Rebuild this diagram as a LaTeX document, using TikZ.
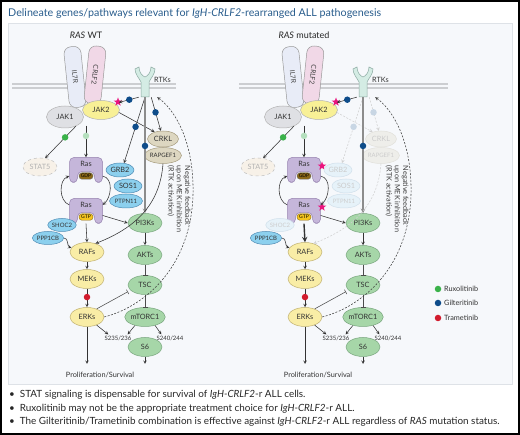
\documentclass[tikz,border=0pt]{standalone}
\usepackage{fontspec}
\setmainfont{Lato}
\usepackage{tikz}
\usetikzlibrary{shapes,arrows,arrows.meta,positioning,calc}

\definecolor{titleblue}{RGB}{40,92,140}
\definecolor{panelbg}{RGB}{246,248,251}
\definecolor{panelline}{RGB}{222,226,231}
\definecolor{membraneline}{RGB}{204,206,209}
\definecolor{ilcolor}{RGB}{232,236,247}
\definecolor{crlfcolor}{RGB}{241,216,231}
\definecolor{rtkteal}{RGB}{212,236,228}
\definecolor{rtkline}{RGB}{140,170,162}
\definecolor{jakonecolor}{RGB}{223,224,228}
\definecolor{jaktwocolor}{RGB}{248,240,150}
\definecolor{greennode}{RGB}{166,214,168}
\definecolor{greenline}{RGB}{120,165,125}
\definecolor{yellownode}{RGB}{249,237,166}
\definecolor{yellowline}{RGB}{190,175,110}
\definecolor{bluenode}{RGB}{140,208,238}
\definecolor{blueline}{RGB}{80,140,180}
\definecolor{tannode}{RGB}{221,215,193}
\definecolor{tanline}{RGB}{165,155,125}
\definecolor{statfill}{RGB}{247,241,232}
\definecolor{raspurple}{RGB}{197,182,218}
\definecolor{rasline}{RGB}{150,130,175}
\definecolor{gdpbrown}{RGB}{138,104,24}
\definecolor{gtpyellow}{RGB}{244,196,30}
\definecolor{starpink}{RGB}{234,20,126}
\definecolor{ruxgreen}{RGB}{58,178,74}
\definecolor{giltblue}{RGB}{14,76,138}
\definecolor{trared}{RGB}{210,28,46}

\tikzset{
    rtkshape/.pic={
        \draw[draw=rtkline, fill=rtkteal, line width=0.5pt]
            (-4,15) -- (-4,0) .. controls (-6,-4) and (-10,-8) .. (-10,-13)
            -- (-6,-15) .. controls (-6,-10) and (-3,-6) .. (0,-5)
            .. controls (3,-6) and (6,-10) .. (6,-15)
            -- (10,-13) .. controls (10,-8) and (6,-4) .. (4,0) -- (4,15) -- cycle;
    },
    rasblob/.pic={
        \draw[draw=rasline, fill=raspurple, line width=0.5pt, rounded corners=4.5]
            (-8.5,12.5) -- (-16.5,12.5) -- (-16.5,-12.5) -- (16.5,-12.5)
            -- (16.5,12.5) -- (8.5,12.5) -- (8.5,1.5) -- (-8.5,1.5) -- cycle;
    }
}

\begin{document}
\begin{tikzpicture}[
    x=1pt, y=-1pt,
    heading/.style={font=\fontsize{9}{10}\selectfont, text=black!85},
    lbl/.style={font=\fontsize{7.3}{8.3}\selectfont, text=black!80, inner sep=1pt},
    small/.style={font=\fontsize{6}{7}\selectfont},
    cell/.style={ellipse, line width=0.5pt, inner sep=0, minimum width=34, minimum height=19,
                 font=\fontsize{7.3}{8.3}\selectfont, text=black!80},
    pathnode/.style={cell, fill=greennode, draw=greenline},
    mapknode/.style={cell, fill=yellownode, draw=yellowline},
    adaptor/.style={cell, fill=bluenode, draw=blueline, minimum width=28, minimum height=14},
    adaptorfade/.style={adaptor, fill=bluenode!15!panelbg, draw=blueline!22!panelbg, text=black!20},
    crknode/.style={cell, fill=tannode, draw=tanline, minimum width=31, minimum height=16},
    crkfade/.style={crknode, fill=tannode!30!panelbg, draw=tanline!25!panelbg, text=black!20},
    statnode/.style={cell, fill=statfill, draw=black!25, dashed, text=black!30, minimum height=18},
    receptor/.style={rectangle, rounded corners=7, draw=black!40, line width=0.5pt, inner sep=0,
                     minimum width=61, minimum height=17, font=\fontsize{6.8}{7.5}\selectfont, text=black!75},
    ras/.style={rectangle, inner sep=0, minimum width=33, minimum height=25},
    pill/.style={rectangle, rounded corners=3, line width=0.4pt, minimum width=14, minimum height=6.5,
                 inner sep=0.5pt, font=\fontsize{5}{5.5}\selectfont},
    dot/.style={circle, inner sep=0, minimum size=6.5},
    mutstar/.style={star, star points=5, star point ratio=2.4, fill=starpink, inner sep=0, minimum size=9},
    arrow/.style={->, >=stealth, line width=0.55pt, draw=black!80},
    inhibit/.style={-{Bar[width=5pt]}, line width=0.55pt, draw=black!70},
    fadearrow/.style={arrow, dash pattern=on 2pt off 1.5pt, draw=black!18},
    feedback/.style={arrow, dash pattern=on 2pt off 1.5pt, draw=black!75},
    membrane/.style={draw=membraneline, line width=1.2pt},
    bullet/.style={font=\fontsize{9.9}{11}\selectfont, text=black!85, inner sep=0}
]
    \useasboundingbox (0,0) rectangle (520,435);
    % frame, title and panel
    \draw[line width=2pt] (1,1) rectangle (519,434);
    \node[anchor=west, font=\fontsize{10.7}{12}\selectfont, text=titleblue, inner sep=0] (title) at (8,13.5)
        {Delineate genes/pathways relevant for \textit{IgH-CRLF2}-rearranged ALL pathogenesis};
    \draw[fill=panelbg, draw=panelline, line width=0.8pt] (8,23) rectangle (512,384);

    % ================= RAS WT =================
    \node[heading] (headw) at (86,35) {\textit{RAS} WT};
    \draw[membrane] (12,84) -- (176,84) (12,88) -- (176,88);

    % receptors
    \node[receptor, fill=ilcolor, rotate=-84] (il7rw) at (75,77) {IL7R};
    \node[receptor, fill=crlfcolor, rotate=-96, minimum width=58] (crlf2w) at (95,75) {CRLF2};
    \pic at (145,82) {rtkshape};
    \node[minimum width=12, minimum height=30, inner sep=0] (rtkw) at (145,82) {};
    \node[lbl, anchor=west] (rtklblw) at (153,80) {RTKs};

    % kinases and adaptors
    \node[cell, fill=jakonecolor, draw=black!30, minimum width=37, minimum height=22] (jak1w) at (65,117) {JAK1};
    \node[cell, fill=jaktwocolor, draw=black!30, minimum width=37] (jak2w) at (101,110) {JAK2};
    \node[mutstar] (starjw) at (118,102) {};
    \node[statnode] (stat5w) at (40,167) {STAT5};
    \node[crknode] (crklw) at (163,139) {CRKL};
    \node[crknode, small, minimum width=33] (rapgef1w) at (163,155.5) {RAPGEF1};

    % Ras cycle
    \pic at (86,170) {rasblob};
    \node[ras] (rasgdpw) at (86,170) {};
    \node[lbl] (rasgdptw) at (86,164) {Ras};
    \node[pill, fill=gdpbrown, draw=black!55] (gdpw) at (86,176) {GDP};
    \pic at (86,211) {rasblob};
    \node[ras] (rasgtpw) at (86,211) {};
    \node[lbl] (rasgtptw) at (86,205) {Ras};
    \node[pill, fill=gtpyellow, draw=gdpbrown] (gtpw) at (86,217) {GTP};
    \node[adaptor] (grb2w) at (120,170) {GRB2};
    \node[adaptor] (sos1w) at (128,186) {SOS1};
    \node[adaptor, small, minimum width=33] (ptpn11w) at (126,201) {PTPN11};
    \node[adaptor, small, minimum width=27, minimum height=13] (shoc2w) at (62,225) {SHOC2};
    \node[adaptor, small, minimum width=28, minimum height=13] (ppp1cbw) at (48,238) {PPP1CB};

    % MAPK and PI3K branches
    \node[pathnode] (pi3kw) at (145,223) {PI3Ks};
    \node[pathnode] (aktw) at (145,255) {AKTs};
    \node[pathnode] (tscw) at (145,285) {TSC};
    \node[pathnode, minimum width=37] (mtorw) at (145,317) {mTORC1};
    \node[pathnode] (s6w) at (145,347) {S6};
    \node[mapknode] (rafw) at (87,252) {RAFs};
    \node[mapknode] (mekw) at (87,279) {MEKs};
    \node[mapknode] (erkw) at (87,317) {ERKs};
    \node[lbl, small] (s235w) at (118,338) {S235/236};
    \node[lbl, small] (s240w) at (170,338) {S240/244};
    \coordinate (outerkw) at (87,364);
    \coordinate (outs6w) at (145,364);
    \node[lbl] (prolifw) at (100,375) {Proliferation/Survival};
    \node[lbl, rotate=-90, align=left, text=black!75] (feedw) at (179,199)
        {Negative feedback\\upon MEK inhibition\\(RTK activation)};

    % connectors
    \draw[arrow, shorten >=4pt] (rtkw.south west) -- node[dot, fill=giltblue, pos=0.4] (d1w) {} (jak2w.25);
    \draw[arrow] (jak2w.-8) -- (crklw.140);
    \draw[arrow] (rtkw.south east) -- node[dot, fill=giltblue, pos=0.45] (d2w) {} (crklw.105);
    \draw[arrow] (rtkw.south) -- node[dot, fill=giltblue, pos=0.45] (d3w) {} (grb2w.60);
    \draw[arrow, line width=1.1pt, draw=black!45] (rtkw.south) -- node[dot, fill=giltblue, pos=0.42] (d4w) {} (pi3kw.north);
    \draw[arrow] (jak1w.-40) -- node[dot, fill=ruxgreen, pos=0.35] (d5w) {} (stat5w.60);
    \draw[arrow, shorten <=6pt] (jak2w.south -| rasgdpw.north) -- node[dot, fill=ruxgreen!35!panelbg, pos=0.43] (d6w) {} (rasgdpw.north);
    \draw[arrow] (rasgtpw.160) to[out=160, in=-160] (rasgdpw.200);
    \draw[arrow] (rasgdpw.-20) to[out=-10, in=40] (rasgtpw.20);
    \draw[arrow] (rasgtpw.south) -- (rafw.north);
    \draw[arrow] (rasgtpw.-15) -- (pi3kw.west);
    \draw[arrow] (ppp1cbw.east) to[out=0, in=160] (rafw.165);
    \draw[arrow] (rapgef1w.south) .. controls (160,205) and (135,228) .. (rafw.45);
    \draw[arrow] (rafw.south) -- (mekw.north);
    \draw[arrow] (mekw.south) -- node[dot, fill=trared, pos=0.45] (d7w) {} (erkw.north);
    \draw[arrow] (pi3kw.south) -- (aktw.north);
    \draw[inhibit] (aktw.south) -- (tscw.north);
    \draw[inhibit] (tscw.south) -- (mtorw.north);
    \draw[inhibit, shorten >=3pt] (erkw.40) -- (tscw.200);
    \draw[arrow] (erkw.-40) -- ($(s235w.north west)+(5,0)$);
    \draw[arrow] (mtorw.-140) -- ($(s235w.north east)+(-5,0)$);
    \draw[arrow] (mtorw.-40) -- ($(s240w.north west)+(6,0)$);
    \draw[arrow] (erkw.south) -- (outerkw);
    \draw[arrow] (s6w.south) -- (outs6w);
    \draw[feedback] (erkw.east) .. controls (150,305) and (195,260) .. (193,185)
        .. controls (192,140) and (175,110) .. ($(rtkw.south east)+(6,0)$);

    % ================= RAS mutated =================
    \begin{scope}[xshift=218]
    \node[heading] (headm) at (86,35) {\textit{RAS} mutated};
    \draw[membrane] (21,84) -- (230,84) (21,88) -- (230,88);

    % receptors
    \node[receptor, fill=ilcolor, rotate=-84] (il7rm) at (75,77) {IL7R};
    \node[receptor, fill=crlfcolor, rotate=-96, minimum width=58] (crlf2m) at (95,75) {CRLF2};
    \pic at (145,82) {rtkshape};
    \node[minimum width=12, minimum height=30, inner sep=0] (rtkm) at (145,82) {};
    \node[lbl, anchor=west] (rtklblm) at (153,80) {RTKs};

    % kinases and adaptors
    \node[cell, fill=jakonecolor, draw=black!30, minimum width=37, minimum height=22] (jak1m) at (65,117) {JAK1};
    \node[cell, fill=jaktwocolor, draw=black!30, minimum width=37] (jak2m) at (101,110) {JAK2};
    \node[mutstar] (starjm) at (118,102) {};
    \node[statnode] (stat5m) at (40,167) {STAT5};
    \node[crkfade] (crklm) at (163,139) {CRKL};
    \node[crkfade, small, minimum width=33] (rapgef1m) at (163,155.5) {RAPGEF1};

    % Ras cycle
    \pic at (86,170) {rasblob};
    \node[ras] (rasgdpm) at (86,170) {};
    \node[lbl] (rasgdptm) at (86,164) {Ras};
    \node[pill, fill=gdpbrown, draw=black!55] (gdpm) at (86,176) {GDP};
    \node[mutstar] (stargdpm) at (104,166) {};
    \pic at (86,211) {rasblob};
    \node[ras] (rasgtpm) at (86,211) {};
    \node[lbl] (rasgtptm) at (86,205) {Ras};
    \node[pill, fill=gtpyellow, draw=gdpbrown] (gtpm) at (86,217) {GTP};
    \node[mutstar] (stargtpm) at (104,207) {};
    \node[adaptorfade] (grb2m) at (120,170) {GRB2};
    \node[adaptorfade] (sos1m) at (128,186) {SOS1};
    \node[adaptorfade, small, minimum width=33] (ptpn11m) at (126,201) {PTPN11};
    \node[adaptorfade, small, minimum width=27, minimum height=13] (shoc2m) at (62,225) {SHOC2};
    \node[adaptor, small, minimum width=28, minimum height=13] (ppp1cbm) at (48,238) {PPP1CB};

    % MAPK and PI3K branches
    \node[pathnode] (pi3km) at (145,223) {PI3Ks};
    \node[pathnode] (aktm) at (145,255) {AKTs};
    \node[pathnode] (tscm) at (145,285) {TSC};
    \node[pathnode, minimum width=37] (mtorm) at (145,317) {mTORC1};
    \node[pathnode] (s6m) at (145,347) {S6};
    \node[mapknode] (rafm) at (87,252) {RAFs};
    \node[mapknode] (mekm) at (87,279) {MEKs};
    \node[mapknode] (erkm) at (87,317) {ERKs};
    \node[lbl, small] (s235m) at (118,338) {S235/236};
    \node[lbl, small] (s240m) at (170,338) {S240/244};
    \coordinate (outerkm) at (87,364);
    \coordinate (outs6m) at (145,364);
    \node[lbl] (prolifm) at (100,375) {Proliferation/Survival};
    \node[lbl, rotate=-90, align=left, text=black!75] (feedm) at (179,199)
        {Negative feedback\\upon MEK inhibition\\(RTK activation)};

    % connectors
    \draw[arrow, shorten >=4pt] (rtkm.south west) -- node[dot, fill=giltblue, pos=0.4] (d1m) {} (jak2m.25);
    \draw[fadearrow] (jak2m.-8) -- (crklm.140);
    \draw[fadearrow] (rtkm.south east) -- node[dot, fill=giltblue!20!panelbg, pos=0.45] (d2m) {} (crklm.105);
    \draw[fadearrow] (rtkm.south) -- node[dot, fill=giltblue!20!panelbg, pos=0.45] (d3m) {} (grb2m.60);
    \draw[arrow, line width=1.1pt, draw=black!45] (rtkm.south) -- node[dot, fill=giltblue, pos=0.42] (d4m) {} (pi3km.north);
    \draw[arrow] (jak1m.-40) -- node[dot, fill=ruxgreen, pos=0.35] (d5m) {} (stat5m.60);
    \draw[arrow, shorten <=6pt] (jak2m.south -| rasgdpm.north) -- node[dot, fill=ruxgreen!35!panelbg, pos=0.43] (d6m) {} (rasgdpm.north);
    \draw[arrow] (rasgtpm.160) to[out=160, in=-160] (rasgdpm.200);
    \draw[arrow] (rasgdpm.-20) to[out=-10, in=40] (rasgtpm.20);
    \draw[arrow, line width=1.4pt] (rasgtpm.south) -- (rafm.north);
    \draw[arrow] (rasgtpm.-15) -- (pi3km.west);
    \draw[arrow] (ppp1cbm.east) to[out=0, in=160] (rafm.165);
    \draw[fadearrow] (rapgef1m.south) .. controls (160,205) and (135,228) .. (rafm.45);
    \draw[arrow] (rafm.south) -- (mekm.north);
    \draw[arrow] (mekm.south) -- node[dot, fill=trared, pos=0.45] (d7m) {} (erkm.north);
    \draw[arrow] (pi3km.south) -- (aktm.north);
    \draw[inhibit] (aktm.south) -- (tscm.north);
    \draw[inhibit] (tscm.south) -- (mtorm.north);
    \draw[inhibit, shorten >=3pt] (erkm.40) -- (tscm.200);
    \draw[arrow] (erkm.-40) -- ($(s235m.north west)+(5,0)$);
    \draw[arrow] (mtorm.-140) -- ($(s235m.north east)+(-5,0)$);
    \draw[arrow] (mtorm.-40) -- ($(s240m.north west)+(6,0)$);
    \draw[arrow] (erkm.south) -- (outerkm);
    \draw[arrow] (s6m.south) -- (outs6m);
    \draw[feedback] (erkm.east) .. controls (150,305) and (195,260) .. (193,185)
        .. controls (192,140) and (175,110) .. ($(rtkm.south east)+(6,0)$);
    \end{scope}

    % legend
    \node[dot, fill=ruxgreen] (legrux) at (438,289) {};
    \node[lbl, anchor=west] (legruxt) at (443,289) {Ruxolitinib};
    \node[dot, fill=giltblue] (leggilt) at (438,303) {};
    \node[lbl, anchor=west] (leggiltt) at (443,303) {Gilteritinib};
    \node[dot, fill=trared] (legtra) at (438,318) {};
    \node[lbl, anchor=west] (legtrat) at (443,318) {Trametinib};

    % conclusions
    \node[bullet, anchor=west] (note1) at (9,395)
        {\textbullet\hspace{5pt}STAT signaling is dispensable for survival of \textit{IgH-CRLF2}-r ALL cells.};
    \node[bullet, anchor=west] (note2) at (9,408.5)
        {\textbullet\hspace{5pt}Ruxolitinib may not be the appropriate treatment choice for \textit{IgH-CRLF2}-r ALL.};
    \node[bullet, anchor=west] (note3) at (9,422)
        {\textbullet\hspace{5pt}The Gilteritinib/Trametinib combination is effective against \textit{IgH-CRLF2}-r ALL regardless of \textit{RAS} mutation status.};
\end{tikzpicture}
\end{document}
